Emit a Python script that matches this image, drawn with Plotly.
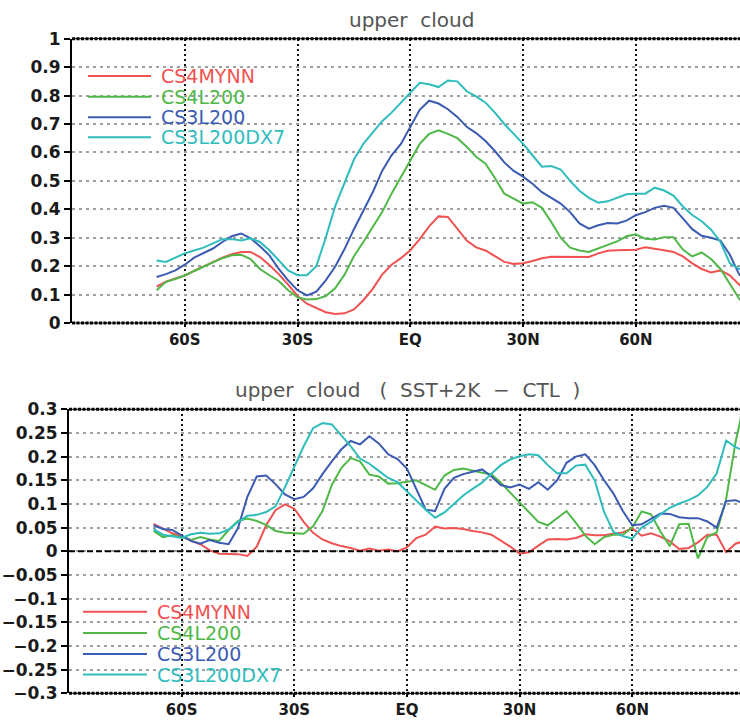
import plotly.graph_objects as go

# Latitude grid (degrees, negative = south)
lat = [-67.5, -65.0, -62.5, -60.0, -57.5, -55.0, -52.5, -50.0, -47.5, -45.0,
       -42.5, -40.0, -37.5, -35.0, -32.5, -30.0, -27.5, -25.0, -22.5, -20.0,
       -17.5, -15.0, -12.5, -10.0, -7.5, -5.0, -2.5, 0.0, 2.5, 5.0,
       7.5, 10.0, 12.5, 15.0, 17.5, 20.0, 22.5, 25.0, 27.5, 30.0,
       32.5, 35.0, 37.5, 40.0, 42.5, 45.0, 47.5, 50.0, 52.5, 55.0,
       57.5, 60.0, 62.5, 65.0, 67.5, 70.0, 72.5, 75.0, 77.5, 80.0,
       82.5, 85.0, 87.5, 90.0]

names = ["CS4MYNN", "CS4L200", "CS3L200", "CS3L200DX7"]
colors = ["#f05252", "#4fb848", "#3b5bb3", "#2fbcbc"]

# Upper cloud fraction, control runs
ctl_cs4mynn = [0.128, 0.145, 0.157, 0.167, 0.183, 0.198, 0.215, 0.230, 0.242, 0.250,
               0.250, 0.232, 0.204, 0.172, 0.135, 0.095, 0.068, 0.052, 0.038, 0.032,
               0.034, 0.048, 0.080, 0.120, 0.170, 0.205, 0.228, 0.256, 0.295, 0.340,
               0.375, 0.373, 0.330, 0.290, 0.266, 0.255, 0.235, 0.215, 0.208, 0.210,
               0.218, 0.228, 0.233, 0.233, 0.232, 0.232, 0.232, 0.245, 0.254, 0.256,
               0.256, 0.258, 0.266, 0.262, 0.256, 0.250, 0.234, 0.210, 0.190, 0.178,
               0.185, 0.168, 0.135, 0.110]
ctl_cs4l200 = [0.115, 0.145, 0.155, 0.167, 0.183, 0.198, 0.215, 0.228, 0.238, 0.240,
               0.225, 0.190, 0.168, 0.148, 0.115, 0.090, 0.083, 0.084, 0.095, 0.122,
               0.170, 0.235, 0.285, 0.340, 0.390, 0.455, 0.515, 0.572, 0.630, 0.665,
               0.678, 0.665, 0.650, 0.620, 0.585, 0.560, 0.510, 0.455, 0.437, 0.420,
               0.425, 0.405, 0.355, 0.300, 0.265, 0.255, 0.250, 0.262, 0.275, 0.287,
               0.305, 0.312, 0.296, 0.294, 0.302, 0.302, 0.258, 0.234, 0.248, 0.225,
               0.190, 0.139, 0.085, 0.060]
ctl_cs3l200 = [0.162, 0.172, 0.185, 0.205, 0.230, 0.245, 0.262, 0.285, 0.305, 0.315,
               0.298, 0.270, 0.238, 0.190, 0.150, 0.115, 0.097, 0.110, 0.150, 0.198,
               0.260, 0.330, 0.395, 0.460, 0.535, 0.590, 0.630, 0.690, 0.750, 0.782,
               0.772, 0.752, 0.725, 0.690, 0.668, 0.640, 0.605, 0.565, 0.535, 0.515,
               0.490, 0.460, 0.440, 0.420, 0.390, 0.350, 0.332, 0.344, 0.352, 0.350,
               0.360, 0.379, 0.390, 0.405, 0.412, 0.405, 0.368, 0.330, 0.307, 0.300,
               0.290, 0.240, 0.170, 0.150]
ctl_cs3l200dx7 = [0.220, 0.215, 0.230, 0.245, 0.255, 0.265, 0.280, 0.295, 0.295, 0.290,
                  0.298, 0.285, 0.256, 0.220, 0.185, 0.168, 0.168, 0.200, 0.300, 0.410,
                  0.490, 0.575, 0.630, 0.670, 0.710, 0.740, 0.775, 0.810, 0.845, 0.840,
                  0.830, 0.853, 0.850, 0.815, 0.797, 0.775, 0.740, 0.700, 0.665, 0.630,
                  0.590, 0.550, 0.552, 0.540, 0.500, 0.465, 0.440, 0.423, 0.428, 0.440,
                  0.453, 0.455, 0.455, 0.476, 0.466, 0.448, 0.410, 0.380, 0.358, 0.328,
                  0.285, 0.210, 0.190, 0.170]

# Upper cloud response (SST+2K minus control)
d_cs4mynn = [0.058, 0.048, 0.038, 0.032, 0.022, 0.015, 0.002, -0.005, -0.005, -0.006,
             -0.010, 0.010, 0.055, 0.087, 0.099, 0.090, 0.062, 0.039, 0.025, 0.017,
             0.011, 0.007, 0.001, 0.006, 0.001, 0.004, 0.000, 0.008, 0.028, 0.035,
             0.052, 0.048, 0.049, 0.047, 0.043, 0.040, 0.035, 0.022, 0.010, -0.005,
             -0.002, 0.012, 0.025, 0.026, 0.025, 0.028, 0.036, 0.034, 0.034, 0.037,
             0.040, 0.049, 0.033, 0.038, 0.031, 0.021, 0.005, 0.007, 0.019, 0.035,
             0.035, -0.002, 0.016, 0.022]
d_cs4l200 = [0.043, 0.030, 0.034, 0.030, 0.024, 0.030, 0.025, 0.022, 0.045, 0.064,
             0.069, 0.064, 0.056, 0.043, 0.039, 0.038, 0.037, 0.053, 0.085, 0.140,
             0.176, 0.197, 0.190, 0.162, 0.158, 0.143, 0.144, 0.147, 0.150, 0.140,
             0.130, 0.160, 0.172, 0.175, 0.170, 0.166, 0.163, 0.145, 0.124, 0.104,
             0.083, 0.062, 0.055, 0.070, 0.085, 0.060, 0.033, 0.015, 0.030, 0.035,
             0.035, 0.050, 0.084, 0.078, 0.042, 0.011, 0.057, 0.058, -0.015, 0.030,
             0.040, 0.110, 0.230, 0.320]
d_cs3l200 = [0.055, 0.047, 0.045, 0.033, 0.022, 0.016, 0.024, 0.018, 0.015, 0.049,
             0.115, 0.158, 0.160, 0.142, 0.120, 0.110, 0.115, 0.133, 0.163, 0.190,
             0.215, 0.233, 0.226, 0.243, 0.228, 0.205, 0.195, 0.175, 0.130, 0.088,
             0.085, 0.132, 0.155, 0.163, 0.168, 0.173, 0.158, 0.140, 0.135, 0.141,
             0.132, 0.146, 0.130, 0.150, 0.187, 0.200, 0.205, 0.182, 0.150, 0.122,
             0.085, 0.055, 0.057, 0.068, 0.080, 0.079, 0.072, 0.070, 0.070, 0.063,
             0.050, 0.106, 0.108, 0.100]
d_cs3l200dx7 = [0.047, 0.035, 0.032, 0.028, 0.036, 0.039, 0.037, 0.038, 0.046, 0.062,
                0.075, 0.077, 0.083, 0.095, 0.135, 0.180, 0.222, 0.260, 0.271, 0.268,
                0.246, 0.222, 0.196, 0.185, 0.170, 0.155, 0.146, 0.127, 0.106, 0.088,
                0.071, 0.082, 0.100, 0.118, 0.132, 0.145, 0.164, 0.182, 0.194, 0.201,
                0.205, 0.203, 0.182, 0.165, 0.165, 0.181, 0.183, 0.150, 0.083, 0.041,
                0.032, 0.027, 0.050, 0.062, 0.078, 0.092, 0.101, 0.108, 0.118, 0.136,
                0.165, 0.234, 0.220, 0.212]

x_tickvals = [-60, -30, 0, 30, 60]
x_ticktext = ["60S", "30S", "EQ", "30N", "60N"]
top_tickvals = [0, 0.1, 0.2, 0.3, 0.4, 0.5, 0.6, 0.7, 0.8, 0.9, 1.0]
top_ticktext = ["0", "0.1", "0.2", "0.3", "0.4", "0.5", "0.6", "0.7", "0.8", "0.9", "1"]
bot_tickvals = [-0.3, -0.25, -0.2, -0.15, -0.1, -0.05, 0, 0.05, 0.1, 0.15, 0.2, 0.25, 0.3]
bot_ticktext = ["\u22120.3", "\u22120.25", "\u22120.2", "\u22120.15", "\u22120.1", "\u22120.05",
                "0", "0.05", "0.1", "0.15", "0.2", "0.25", "0.3"]

top_title = "upper\u00a0\u00a0cloud"
bot_title = "upper\u00a0\u00a0cloud\u00a0\u00a0\u00a0(\u00a0\u00a0SST+2K\u00a0\u00a0\u2212\u00a0\u00a0CTL\u00a0\u00a0)"

W, H = 740, 720
fig = go.Figure()

top_series = [ctl_cs4mynn, ctl_cs4l200, ctl_cs3l200, ctl_cs3l200dx7]
bot_series = [d_cs4mynn, d_cs4l200, d_cs3l200, d_cs3l200dx7]

for name, col, ys in zip(names, colors, top_series):
    fig.add_trace(go.Scatter(x=lat, y=ys, mode="lines", name=name, showlegend=False,
                             line=dict(color=col, width=2), xaxis="x", yaxis="y"))
for name, col, ys in zip(names, colors, bot_series):
    fig.add_trace(go.Scatter(x=lat, y=ys, mode="lines", name=name, showlegend=False,
                             line=dict(color=col, width=2), xaxis="x2", yaxis="y2"))

tick_font = dict(family="DejaVu Sans", size=15, color="#1a1a1a", weight="bold")
ytick_font = dict(family="DejaVu Sans", size=17, color="#1a1a1a", weight="bold")


def xaxis_cfg(domain, rng, anchor):
    return dict(domain=domain, range=rng, anchor=anchor, tickvals=x_tickvals,
                ticktext=x_ticktext, tickfont=tick_font, ticks="outside", ticklen=3,
                tickwidth=2, tickcolor="black", showgrid=True, gridcolor="#111111",
                gridwidth=2, griddash="2px,3px", zeroline=False, showline=False,
                automargin=False, fixedrange=True)


def yaxis_cfg(domain, rng, anchor, vals, text):
    return dict(domain=domain, range=rng, anchor=anchor, tickvals=vals, ticktext=text,
                tickfont=ytick_font, ticks="outside", ticklen=6, tickwidth=2,
                tickcolor="black", showgrid=True, gridcolor="#a0a0a0", gridwidth=1.5,
                griddash="3px,4px", zeroline=False, showline=True, linecolor="black",
                linewidth=2, automargin=False, fixedrange=True)


top_xdom = [72 / W, 1.0]
bot_xdom = [69 / W, 1.0]
top_ydom = [1 - 323 / H, 1 - 38.7 / H]
bot_ydom = [1 - 693.3 / H, 1 - 409.3 / H]

fig.update_layout(
    width=W, height=H,
    margin=dict(l=0, r=0, t=0, b=0),
    paper_bgcolor="white", plot_bgcolor="white",
    showlegend=False,
    xaxis=xaxis_cfg(top_xdom, [-90, 87.7], "y"),
    yaxis=yaxis_cfg(top_ydom, [0, 1], "x", top_tickvals, top_ticktext),
    xaxis2=xaxis_cfg(bot_xdom, [-90, 88.7], "y2"),
    yaxis2=yaxis_cfg(bot_ydom, [-0.3, 0.3], "x2", bot_tickvals, bot_ticktext),
)

shapes = []
# frame: dotted heavy top and bottom edges
for xr, yr in (("x domain", "y domain"), ("x2 domain", "y2 domain")):
    for yv in (0, 1):
        shapes.append(dict(type="line", xref=xr, yref=yr, x0=0, x1=1, y0=yv, y1=yv,
                           line=dict(color="black", width=1)))
        shapes.append(dict(type="line", xref=xr, yref=yr, x0=0, x1=1, y0=yv, y1=yv,
                           line=dict(color="black", width=3, dash="3px,1.5px")))
# zero reference line in the difference panel
shapes.append(dict(type="line", xref="x2 domain", yref="y2", x0=0, x1=1, y0=0, y1=0,
                   line=dict(color="black", width=2, dash="6px,3px")))

annotations = []
# panel titles
annotations.append(dict(text=top_title, xref="paper", yref="paper", x=411 / W, y=1 - 20 / H,
                        xanchor="center", yanchor="middle", showarrow=False,
                        font=dict(family="DejaVu Sans", size=20, color="#555555")))
annotations.append(dict(text=bot_title, xref="paper", yref="paper", x=407 / W, y=1 - 390 / H,
                        xanchor="center", yanchor="middle", showarrow=False,
                        font=dict(family="DejaVu Sans", size=20, color="#555555")))

# in-panel legends (line key + coloured label)
legend_rows = [
    dict(rows=[76, 96.7, 117.3, 137.3], x0=88, x1=151, xt=159),
    dict(rows=[611.7, 633.0, 654.0, 674.5], x0=83, x1=147, xt=155),
]
for leg in legend_rows:
    for name, col, ry in zip(names, colors, leg["rows"]):
        yp = 1 - ry / H
        shapes.append(dict(type="line", xref="paper", yref="paper", x0=leg["x0"] / W,
                           x1=leg["x1"] / W, y0=yp, y1=yp, line=dict(color=col, width=2)))
        annotations.append(dict(text=name, xref="paper", yref="paper", x=leg["xt"] / W, y=yp,
                                xanchor="left", yanchor="middle", showarrow=False,
                                font=dict(family="DejaVu Sans", size=19, color=col)))

fig.update_layout(shapes=shapes, annotations=annotations)

fig.write_html("out.html")
